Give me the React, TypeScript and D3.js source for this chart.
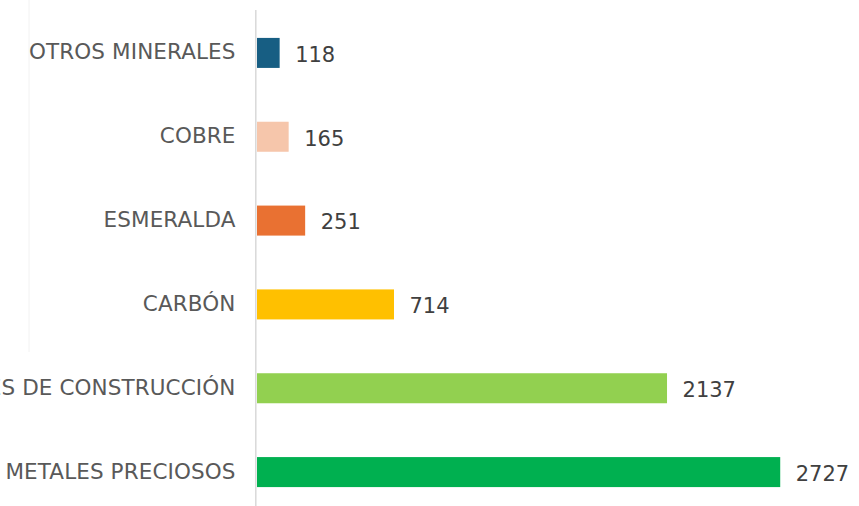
import React from "react";
import * as d3 from "d3";

const categories = [
  "OTROS MINERALES",
  "COBRE",
  "ESMERALDA",
  "CARBÓN",
  "MATERIALES DE CONSTRUCCIÓN",
  "METALES PRECIOSOS",
];
const values = [118, 165, 251, 714, 2137, 2727];
const colors = ["#175e83", "#f6c6ab", "#e97132", "#ffc000", "#92d050", "#00b050"];

const W = 859;
const H = 506;

export default function App() {
  const x = d3.scaleLinear().domain([0, 3000]).range([257, 832.6]);
  const y = d3
    .scaleBand<string>()
    .domain(categories)
    .range([11, 514])
    .paddingInner(0.642)
    .paddingOuter(0.321);
  const font = "'DejaVu Sans', Verdana, sans-serif";
  return (
    <svg
      width={W}
      height={H}
      style={{ position: "absolute", left: 0, top: 0, background: "#fff" }}
    >
      <line x1={29} x2={29} y1={0} y2={352} stroke="#f2f2f2" strokeWidth={1} />
      {categories.map((c, i) => {
        const yy = y(c)!;
        const bw = y.bandwidth();
        return (
          <g key={c}>
            <rect x={x(0)} y={yy} width={x(values[i]) - x(0)} height={bw} fill={colors[i]} />
            <text
              x={235.5}
              y={yy + bw / 2}
              dy="0.3em"
              textAnchor="end"
              fontFamily={font}
              fontSize={21.5}
              letterSpacing={0.1}
              fill="#595959"
            >
              {c}
            </text>
            <text
              x={x(values[i]) + 15.5}
              y={yy + bw / 2}
              dy="0.42em"
              textAnchor="start"
              fontFamily={font}
              fontSize={21}
              fill="#404040"
            >
              {values[i]}
            </text>
          </g>
        );
      })}
      <line x1={255.8} x2={255.8} y1={10} y2={506} stroke="#d9d9d9" strokeWidth={1.5} />
    </svg>
  );
}
